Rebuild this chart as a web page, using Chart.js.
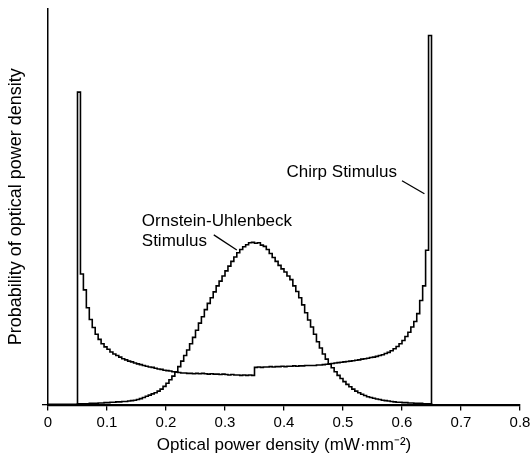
<!DOCTYPE html>
<html>
<head>
<meta charset="utf-8">
<script src="https://cdn.jsdelivr.net/npm/chart.js@4"></script>
<style>
  html, body { margin: 0; padding: 0; background: #fff; }
  canvas { display: block; }
</style>
</head>
<body>
<canvas id="hist" width="531" height="457"></canvas>
<script>
// bins are 0.005 wide
const binWidth = 0.005
const chirpStart = 0.05
const ouStart = 0.0

// Chirp stimulus histogram (arbitrary probability units, 0.05 .. 0.65)
const chirpValues = [
    79, 33, 29, 24.5, 21.5, 19.5, 17.8, 16.5, 15.4, 14.6,
    14.0, 13.3, 12.8, 12.4, 12.0, 11.6, 11.3, 11.0, 10.8, 10.5,
    10.3, 10.1, 9.9, 9.7, 9.5, 9.4, 9.2, 9.0, 8.9, 8.7,
    8.6, 8.5, 8.3, 8.2, 8.1, 8.0, 8.0, 7.9, 7.9, 7.8,
    7.9, 7.8, 7.9, 7.8, 7.7, 7.8, 7.7, 7.7, 7.6, 7.7,
    7.6, 7.5, 7.6, 7.5, 7.5, 7.4, 7.5, 7.4, 7.5, 7.4,
    9.4, 9.5, 9.4, 9.5, 9.5, 9.6, 9.5, 9.6, 9.6, 9.7,
    9.6, 9.7, 9.7, 9.8, 9.7, 9.8, 9.8, 9.9, 9.9, 9.9,
    9.9, 10.0, 10.0, 10.1, 10.2, 10.3, 10.4, 10.5, 10.6, 10.7,
    10.8, 10.9, 11.0, 11.1, 11.2, 11.3, 11.5, 11.6, 11.7, 11.9,
    12.0, 12.2, 12.4, 12.6, 12.9, 13.2, 13.6, 14.1, 14.7, 15.4,
    16.2, 17.2, 18.3, 19.6, 21.0, 23.0, 26.3, 30.0, 39.0, 93.3
]

// Ornstein-Uhlenbeck stimulus histogram (0 .. 0.65)
const ouValues = [
    0.1, 0.1, 0.1, 0.1, 0.1, 0.1, 0.1, 0.1, 0.1, 0.1,
    0.2, 0.2, 0.2, 0.2, 0.3, 0.3, 0.3, 0.4, 0.4, 0.5,
    0.5, 0.6, 0.6, 0.7, 0.7, 0.8, 0.8, 0.9, 1.0, 1.1,
    1.3, 1.5, 1.8, 2.1, 2.4, 2.7, 3.0, 3.4, 3.9, 4.6,
    5.4, 6.3, 7.2, 8.3, 9.6, 11.0, 12.4, 13.8, 15.4, 17.0,
    18.8, 20.6, 22.2, 24.0, 25.6, 27.0, 28.5, 30.0, 31.2, 32.5,
    33.8, 35.0, 36.2, 37.3, 38.4, 39.2, 39.9, 40.4, 40.9, 41.0,
    40.8, 40.9, 40.3, 40.0, 39.2, 38.2, 37.2, 36.2, 35.2, 34.3,
    33.5, 32.5, 31.6, 30.0, 28.6, 27.0, 25.2, 23.2, 21.4, 19.6,
    17.8, 15.9, 14.3, 12.8, 11.5, 10.3, 9.3, 8.3, 7.4, 6.6,
    5.8, 5.1, 4.5, 3.9, 3.4, 3.0, 2.6, 2.3, 2.0, 1.8,
    1.6, 1.4, 1.3, 1.1, 1.0, 0.9, 0.8, 0.7, 0.6, 0.6,
    0.5, 0.5, 0.4, 0.4, 0.3, 0.3, 0.3, 0.2, 0.2, 0.2
]

const xTicks = [0, 0.1, 0.2, 0.3, 0.4, 0.5, 0.6, 0.7, 0.8]

// labels with leader lines, in data units
const notes = [
    { lines: ['Chirp Stimulus'], x: 0.5915, y: 57.5, align: 'right', from: [0.600, 56.6], to: [0.638, 53.3] },
    { lines: ['Ornstein-Uhlenbeck', 'Stimulus'], x: 0.159, y: 45.2, align: 'left', from: [0.281, 42.9], to: [0.320, 39.1] }
]

const FONT = '"Liberation Sans", Arial, Helvetica, sans-serif'

// histogram outline: rise at first edge, drop at last edge
const toSteps = (start, vals) => {
    const pts = [{ x: start, y: 0 }]
    vals.forEach((v, i) => pts.push({ x: +(start + i * binWidth).toFixed(4), y: v }))
    pts.push({ x: +(start + vals.length * binWidth).toFixed(4), y: 0 })
    return pts
}

const notesPlugin = {
    id: 'notes',
    afterDatasetsDraw(chart) {
        const { ctx, scales: { x, y } } = chart
        ctx.save()
        ctx.fillStyle = '#000'
        ctx.strokeStyle = '#000'
        ctx.lineWidth = 1.3
        ctx.font = '17px ' + FONT
        ctx.textBaseline = 'alphabetic'
        notes.forEach(n => {
            ctx.textAlign = n.align
            n.lines.forEach((t, k) => ctx.fillText(t, x.getPixelForValue(n.x), y.getPixelForValue(n.y) + k * 20))
            ctx.beginPath()
            ctx.moveTo(x.getPixelForValue(n.from[0]), y.getPixelForValue(n.from[1]))
            ctx.lineTo(x.getPixelForValue(n.to[0]), y.getPixelForValue(n.to[1]))
            ctx.stroke()
        })
        ctx.restore()
    }
}

new Chart(document.getElementById('hist'), {
    type: 'line',
    data: {
        datasets: [
            {
                label: 'Chirp Stimulus',
                data: toSteps(chirpStart, chirpValues),
                borderColor: '#000',
                borderWidth: 1.6,
                stepped: true,
                pointRadius: 0,
                fill: false
            },
            {
                label: 'Ornstein-Uhlenbeck Stimulus',
                data: toSteps(ouStart, ouValues),
                borderColor: '#000',
                borderWidth: 1.6,
                stepped: true,
                pointRadius: 0,
                fill: false
            }
        ]
    },
    options: {
        responsive: false,
        animation: false,
        layout: { padding: { top: 9, right: 11, left: 0, bottom: 0 } },
        plugins: {
            legend: { display: false },
            tooltip: { enabled: false }
        },
        scales: {
            x: {
                type: 'linear',
                min: 0,
                max: 0.8,
                afterBuildTicks: scale => { scale.ticks = xTicks.map(v => ({ value: v })) },
                // last label may run to the canvas edge, as in the original
                afterFit: scale => { scale.paddingRight = 0 },
                ticks: {
                    color: '#000',
                    font: { family: FONT, size: 15 },
                    padding: 3,
                    maxRotation: 0,
                    callback: v => String(+v.toFixed(1))
                },
                grid: { drawOnChartArea: false, drawTicks: true, tickLength: 6, color: '#000', lineWidth: 1.3 },
                border: { display: true, color: '#000', width: 2.2 },
                title: {
                    display: true,
                    text: 'Optical power density (mW·mm⁻²)',
                    color: '#000',
                    font: { family: FONT, size: 17 },
                    padding: { top: 1, bottom: 1 }
                }
            },
            y: {
                min: 0,
                max: 100,
                afterBuildTicks: scale => { scale.ticks = [{ value: 0 }] },
                afterFit: scale => { scale.width = 48 },
                ticks: { display: false },
                grid: { drawOnChartArea: false, drawTicks: true, tickLength: 6, color: '#000', lineWidth: 1.3 },
                border: { display: true, color: '#000', width: 1.5 },
                title: {
                    display: true,
                    text: 'Probability of optical power density',
                    color: '#000',
                    font: { family: FONT, size: 18 },
                    padding: { top: 5, bottom: 0 }
                }
            }
        }
    },
    plugins: [notesPlugin]
});
</script>
</body>
</html>
